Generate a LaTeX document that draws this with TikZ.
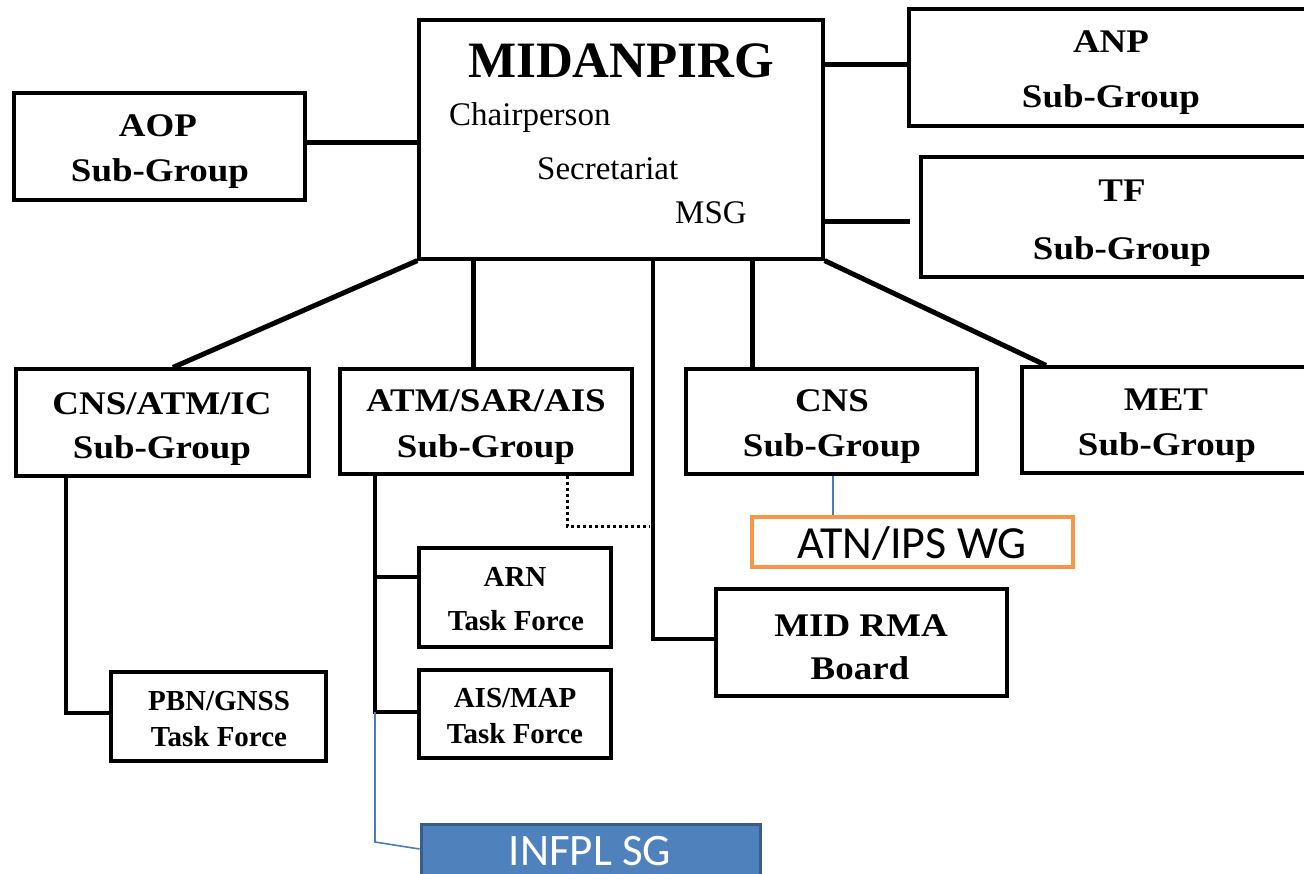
\documentclass[tikz,border=0pt]{standalone}
\usepackage{fontspec}
\setmainfont{Liberation Serif}
\newfontfamily\wideserif{Liberation Serif}[FakeStretch=1.12]
\newfontfamily\calib{Carlito}
\definecolor{wgorange}{HTML}{F79646}
\definecolor{sgblue}{HTML}{4F81BD}
\definecolor{sgblueedge}{HTML}{385D8A}
\definecolor{linkblue}{HTML}{4A7EBB}
\begin{document}
\begin{tikzpicture}[x=1pt,y=-1pt,
  box/.style={draw=black, line width=3.2pt, inner sep=0pt, fill=white},
  conn/.style={draw=black, line width=5pt},
  thinconn/.style={draw=black, line width=3.4pt},
  dotconn/.style={draw=black, line width=3pt, dash pattern=on 3pt off 3pt},
  bluelink/.style={draw=linkblue, line width=1.6pt},
  txt/.style={inner sep=0pt, anchor=base},
  sgfont/.style={txt, font=\wideserif\bfseries\fontsize{33pt}{36pt}\selectfont},
  tffont/.style={txt, font=\bfseries\fontsize{29pt}{32pt}\selectfont},
  midfont/.style={txt, font=\bfseries\fontsize{51pt}{54pt}\selectfont},
  rolefont/.style={inner sep=0pt, anchor=base west, font=\fontsize{33pt}{36pt}\selectfont},
  calfont/.style={txt, font=\calib\fontsize{46pt}{50pt}\selectfont}
]
\useasboundingbox (0,0) rectangle (1304,874);
\clip (0,0) rectangle (1304,874);
\fill[white] (0,0) rectangle (1304,874);

% boxes
\node[box, minimum width=404pt, minimum height=239pt] (mid) at (621,139.5) {};
\node[box, minimum width=291pt, minimum height=107pt] (aop) at (159.5,146.5) {};
\node[box, minimum width=421pt, minimum height=117pt] (anp) at (1119.5,67.5) {};
\node[box, minimum width=409pt, minimum height=120pt] (tf) at (1125.5,217) {};
\node[box, minimum width=293pt, minimum height=107pt] (cnsatmic) at (162.5,422.5) {};
\node[box, minimum width=292pt, minimum height=105pt] (atmsar) at (486,421.5) {};
\node[box, minimum width=291pt, minimum height=105pt] (cns) at (831.5,421.5) {};
\node[box, minimum width=308pt, minimum height=106pt] (met) at (1176,420) {};
\node[box, minimum width=192pt, minimum height=99pt] (arn) at (515,597.5) {};
\node[box, minimum width=192pt, minimum height=88pt] (aismap) at (515,714) {};
\node[box, minimum width=215pt, minimum height=89pt] (pbn) at (218.5,716.5) {};
\node[box, minimum width=291pt, minimum height=107pt] (midrma) at (861.5,642.5) {};
\node[draw=wgorange, line width=4pt, fill=white, inner sep=0pt,
      minimum width=321pt, minimum height=50pt] (atn) at (912.5,542) {};
\node[draw=sgblueedge, fill=sgblue, line width=3pt, inner sep=0pt,
      minimum width=339pt, minimum height=66pt] (infpl) at (590.5,857) {};

% connectors from MIDANPIRG
\draw[conn] (aop.east |- 0,143) -- (mid.west |- 0,143);
\draw[conn] (mid.east |- 0,65) -- (anp.west |- 0,65);
\coordinate (tfend) at (910,222);
\draw[conn] (mid.east |- tfend) -- (tfend);
\draw[conn] (mid.south west) -- (cnsatmic.north -| 173,0);
\draw[conn] (mid.south -| 473,0) -- (atmsar.north -| 473,0);
\draw[conn] (mid.south -| 752,0) -- (cns.north -| 752,0);
\draw[conn] (mid.south east) -- (met.north -| 1046,0);
\draw[thinconn] (mid.south -| 653,0) |- (midrma.west |- 0,639);

% dotted link
\coordinate (dotend) at (650,526);
\draw[dotconn] (atmsar.south -| 567,0) |- (dotend);

% lower branches
\draw[thinconn] (cnsatmic.south -| 66,0) |- (pbn.west |- 0,713);
\coordinate (atmbus) at (375,712);
\draw[thinconn] (atmsar.south -| atmbus) -- (atmbus) -- (aismap.west |- atmbus);
\draw[thinconn] (atmbus |- 0,577) -- (arn.west |- 0,577);
\coordinate (bluebend) at (375,842);
\draw[bluelink] (atmbus) -- (bluebend) -- (infpl.west |- 0,849);
\draw[bluelink] (cns.south -| 833,0) -- (atn.north -| 833,0);

% texts
\node[midfont] (tmid) at (621,78) {MIDANPIRG};
\node[rolefont] (tchair) at (449,126) {Chairperson};
\node[rolefont] (tsec) at (537,180) {Secretariat};
\node[rolefont] (tmsg) at (675,224) {MSG};

\node[sgfont] (taop1) at (158,137) {AOP};
\node[sgfont] (taop2) at (160,182) {Sub-Group};
\node[sgfont] (tanp1) at (1111,53) {ANP};
\node[sgfont] (tanp2) at (1111,108) {Sub-Group};
\node[sgfont] (ttf1) at (1122,202) {TF};
\node[sgfont] (ttf2) at (1122,260) {Sub-Group};

\node[sgfont] (tc1) at (162,414) {CNS/ATM/IC};
\node[sgfont] (tc2) at (162,458) {Sub-Group};
\node[sgfont] (ta1) at (486,412) {ATM/SAR/AIS};
\node[sgfont] (ta2) at (486,457) {Sub-Group};
\node[sgfont] (tn1) at (832,412) {CNS};
\node[sgfont] (tn2) at (832,456) {Sub-Group};
\node[sgfont] (tm1) at (1166,411) {MET};
\node[sgfont] (tm2) at (1167,455) {Sub-Group};

\node[tffont] (tarn1) at (515,586) {ARN};
\node[tffont] (tarn2) at (516,630) {Task Force};
\node[tffont] (tais1) at (515,707) {AIS/MAP};
\node[tffont] (tais2) at (515,743) {Task Force};
\node[tffont] (tpbn1) at (219,710) {PBN/GNSS};
\node[tffont] (tpbn2) at (219,746) {Task Force};

\node[sgfont] (trma1) at (861,636) {MID RMA};
\node[sgfont] (trma2) at (860,679) {Board};

\node[calfont] (tatn) at (912,558) {ATN/IPS WG};
\node[calfont, text=white, font=\calib\fontsize{45pt}{50pt}\selectfont] (tinfpl) at (590,865) {INFPL SG};
\end{tikzpicture}
\end{document}
